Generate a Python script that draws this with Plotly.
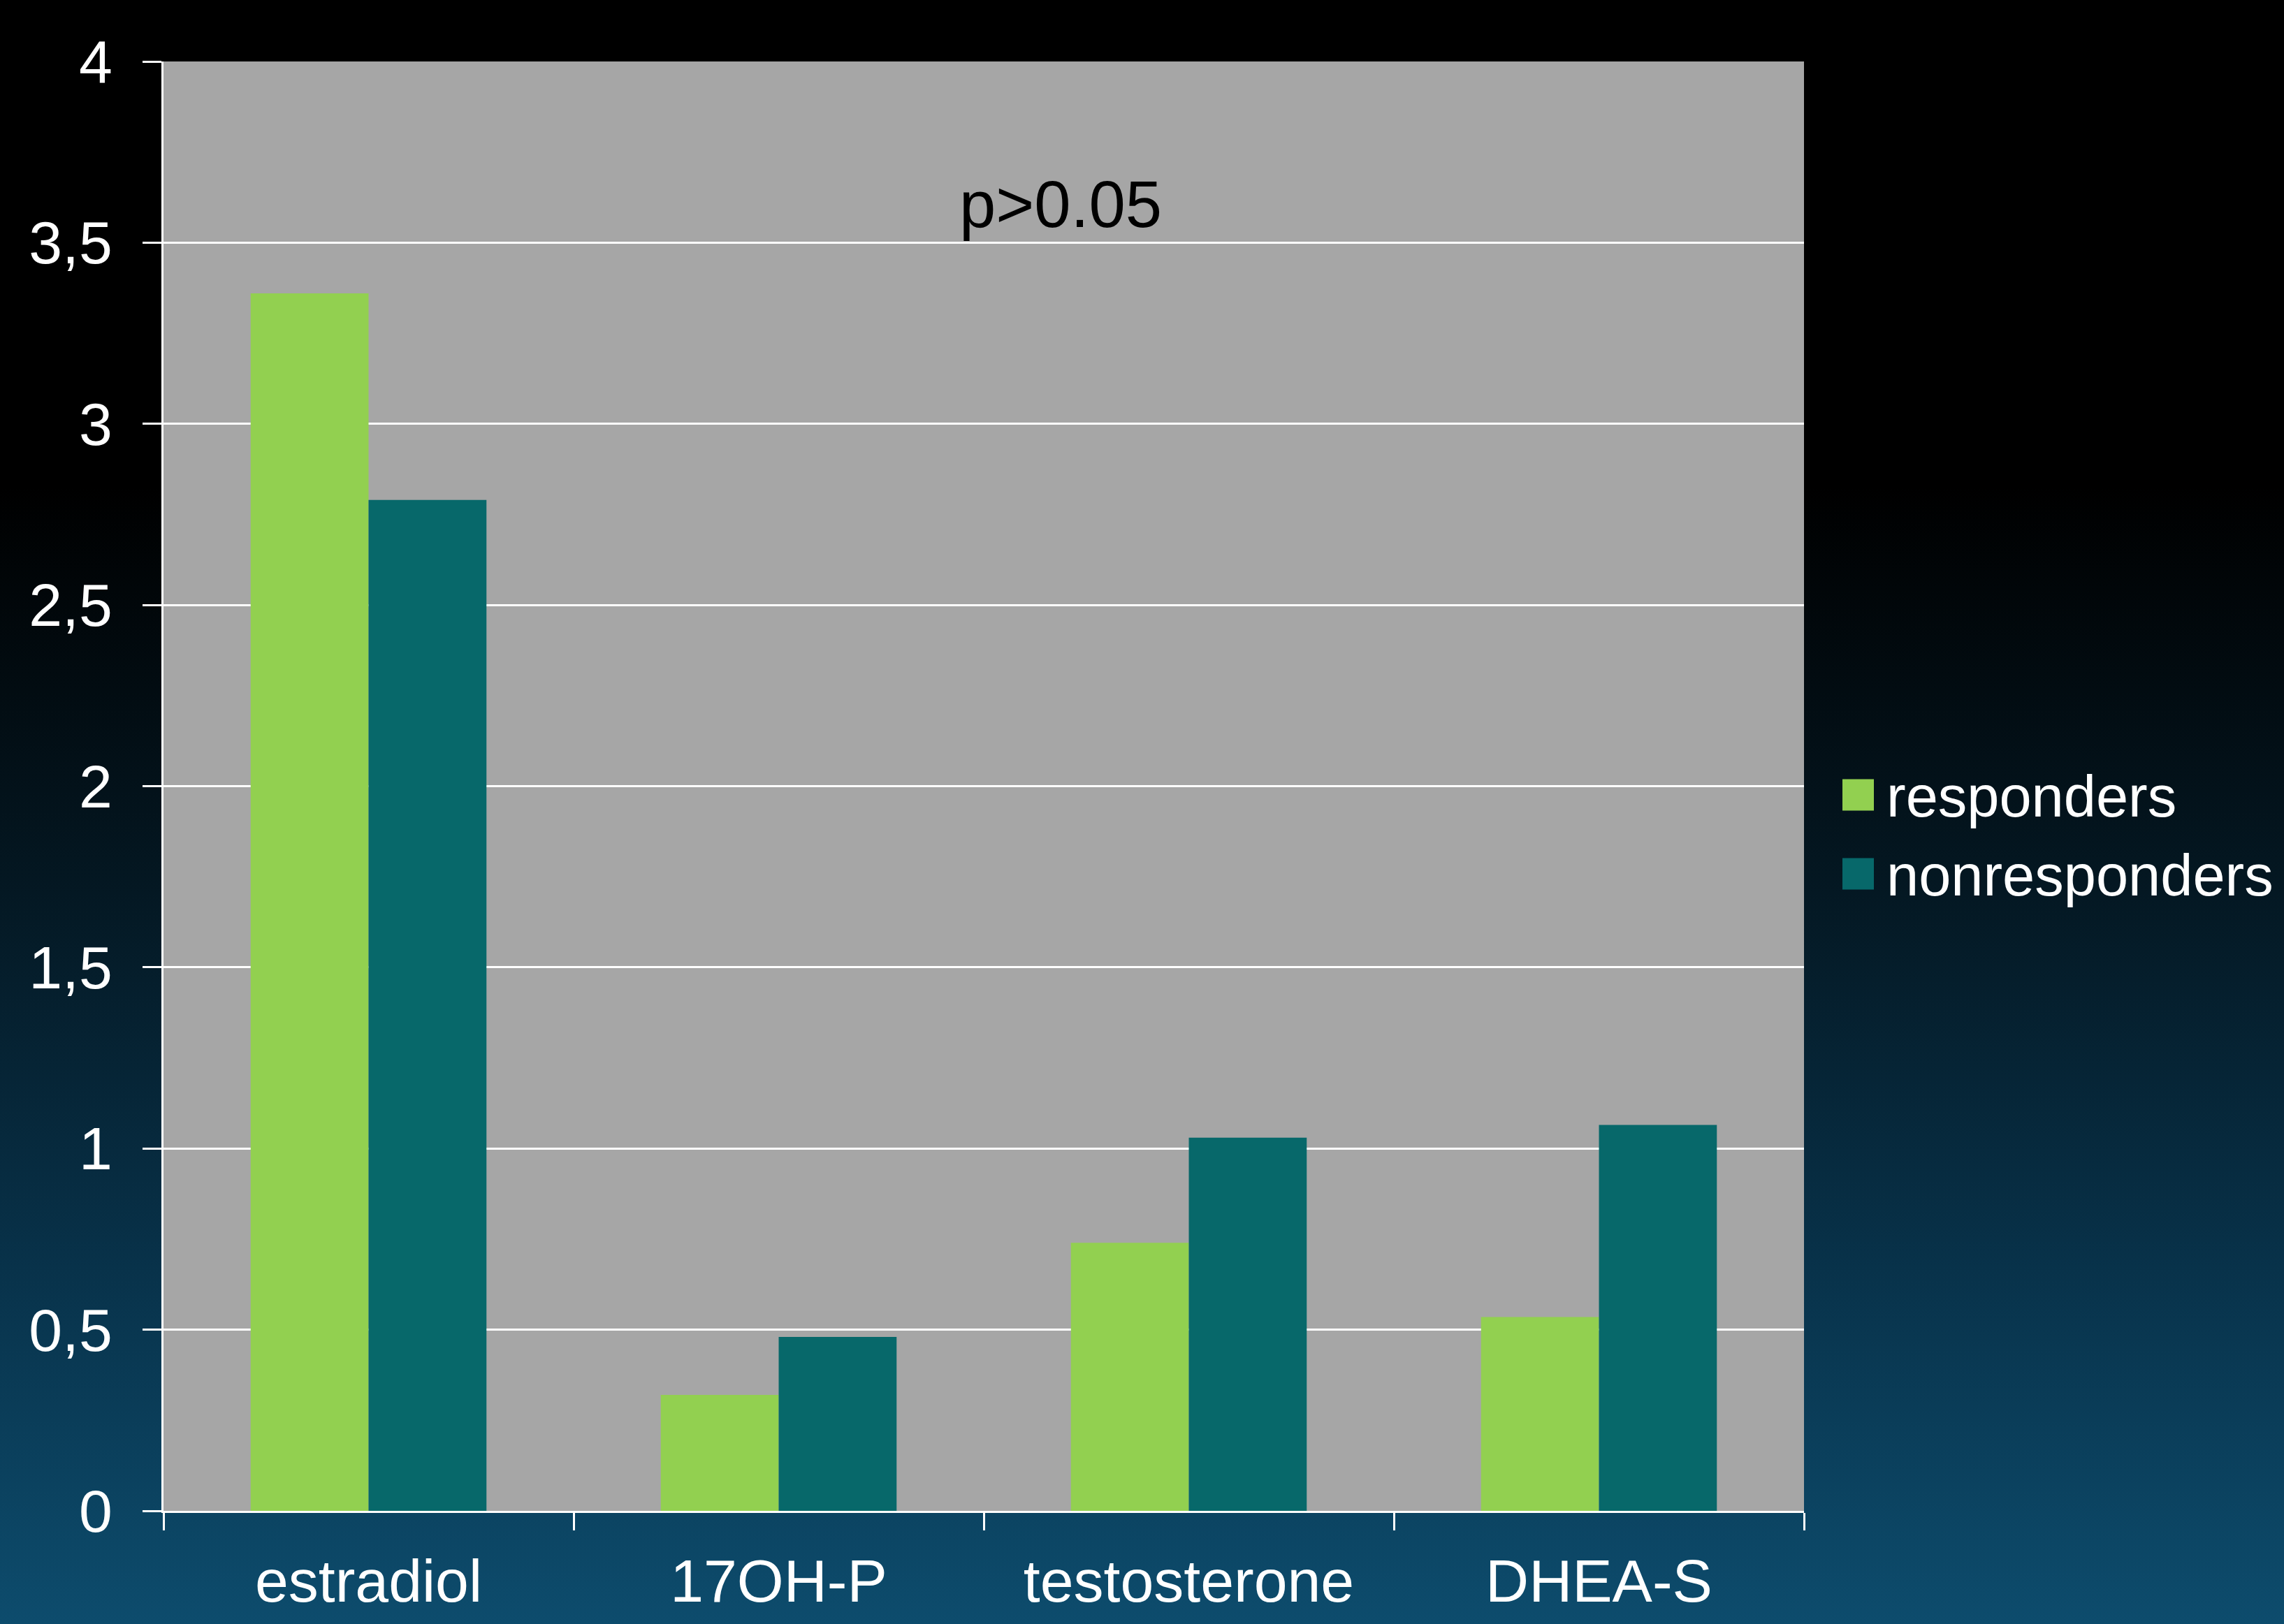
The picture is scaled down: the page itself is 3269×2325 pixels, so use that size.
import base64
import plotly.graph_objects as go

# ---- data ----
categories = ["estradiol", "17OH-P", "testosterone", "DHEA-S"]
responders = [3.36, 0.32, 0.74, 0.535]
nonresponders = [2.79, 0.48, 1.03, 1.065]
series_names = ["responders", "nonresponders"]
y_tickvals = [0, 0.5, 1, 1.5, 2, 2.5, 3, 3.5, 4]
y_ticktext = ["0", "0,5", "1", "1,5", "2", "2,5", "3", "3,5", "4"]
p_text = "p>0.05"

# ---- style / geometry ----
W, H = 3269, 2325
L, R, T, B = 234, 687, 88, 162
PW, PH = W - L - R, H - T - B
GREEN = "#92D050"
TEAL = "#07686A"
GRAY = "#A6A6A6"
FONT = "Liberation Sans, Arial, sans-serif"


def px_to_paper(x=None, y=None):
    out = []
    if x is not None:
        out.append((x - L) / PW)
    if y is not None:
        out.append((H - B - y) / PH)
    return out[0] if len(out) == 1 else tuple(out)


svg = (
    f'<svg xmlns="http://www.w3.org/2000/svg" width="{W}" height="{H}" '
    f'viewBox="0 0 {W} {H}" preserveAspectRatio="none">'
    '<defs><linearGradient id="g" x1="0" y1="0" x2="0" y2="1">'
    '<stop offset="0" stop-color="#000000"/>'
    '<stop offset="0.30" stop-color="#000000"/>'
    '<stop offset="0.55" stop-color="#041823"/>'
    '<stop offset="0.78" stop-color="#08324a"/>'
    '<stop offset="1" stop-color="#0d4c6d"/>'
    '</linearGradient></defs>'
    f'<rect x="0" y="0" width="{W}" height="{H}" fill="url(#g)"/></svg>'
)
bg_src = "data:image/svg+xml;base64," + base64.b64encode(svg.encode()).decode()

fig = go.Figure()
fig.add_trace(go.Bar(x=categories, y=responders, name=series_names[0],
                     marker=dict(color=GREEN, line=dict(width=0)), showlegend=False))
fig.add_trace(go.Bar(x=categories, y=nonresponders, name=series_names[1],
                     marker=dict(color=TEAL, line=dict(width=0)), showlegend=False))

# background gradient (image) + plot-area gray
fig.add_layout_image(dict(
    source=bg_src, xref="paper", yref="paper",
    x=-L / PW, y=1 + T / PH, sizex=W / PW, sizey=H / PH,
    xanchor="left", yanchor="top", sizing="stretch", layer="below", opacity=1,
))
fig.add_shape(type="rect", xref="paper", yref="paper", x0=0, x1=1, y0=0, y1=1,
              fillcolor=GRAY, line=dict(width=0), layer="below")

# manual legend (large swatches)
legend_rows = [(series_names[0], GREEN, 1138), (series_names[1], TEAL, 1251)]
sw = 45
for name, col, cy in legend_rows:
    fig.add_shape(type="rect", xref="paper", yref="paper",
                  x0=px_to_paper(x=2637), x1=px_to_paper(x=2637 + sw),
                  y0=px_to_paper(y=cy + sw / 2), y1=px_to_paper(y=cy - sw / 2),
                  fillcolor=col, line=dict(width=0), layer="above")
    fig.add_annotation(text=name, xref="paper", yref="paper",
                       x=px_to_paper(x=2698), y=px_to_paper(y=cy + 2),
                       xanchor="left", yanchor="middle", showarrow=False,
                       font=dict(family=FONT, size=83, color="white"))

fig.add_annotation(text=p_text, xref="paper", yref="paper",
                   x=px_to_paper(x=1518), y=px_to_paper(y=292),
                   xanchor="center", yanchor="middle", showarrow=False,
                   font=dict(family=FONT, size=94, color="black"))

fig.update_layout(
    width=W, height=H,
    margin=dict(l=L, r=R, t=T, b=B, pad=0, autoexpand=False),
    paper_bgcolor="black",
    plot_bgcolor=GRAY,
    barmode="group",
    bargap=0.425,
    bargroupgap=0,
    font=dict(family=FONT, size=86, color="white"),
    showlegend=False,
)
fig.update_xaxes(
    type="category",
    automargin=False,
    tickson="boundaries",
    ticks="outside", ticklen=25, tickwidth=3, tickcolor="white",
    showline=True, linecolor="white", linewidth=3,
    showgrid=False, zeroline=False,
    tickfont=dict(family=FONT, size=86, color="white"),
    ticklabelstandoff=24,
)
fig.update_yaxes(
    range=[0, 4],
    automargin=False,
    tickvals=y_tickvals, ticktext=y_ticktext,
    ticks="outside", ticklen=27, tickwidth=3, tickcolor="white",
    showline=True, linecolor="white", linewidth=3,
    showgrid=True, gridcolor="white", gridwidth=3,
    zeroline=False,
    tickfont=dict(family=FONT, size=86, color="white"),
    ticklabelstandoff=26,
)

fig.write_html("out.html")
